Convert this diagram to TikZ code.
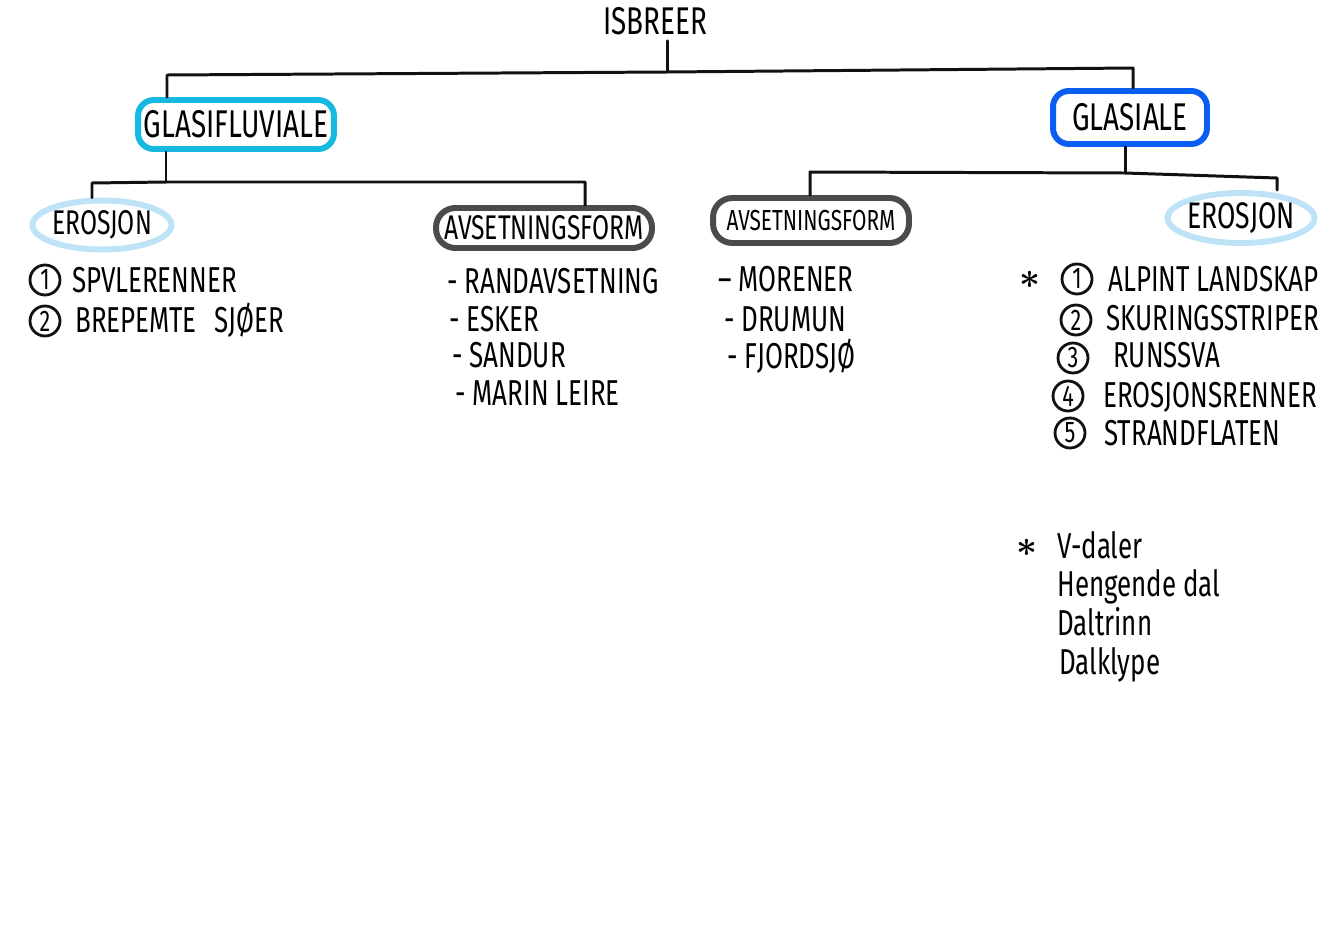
\documentclass[tikz,border=0pt]{standalone}
\usepackage{fontspec}
\setmainfont{Fira Sans}
\newfontfamily\handfont{Fira Sans}[FakeStretch=0.72]
\usetikzlibrary{shapes.geometric,positioning}
\definecolor{ink}{HTML}{111111}
\definecolor{cyanq}{HTML}{16B9DF}
\definecolor{blueq}{HTML}{0A5EF2}
\definecolor{skyq}{HTML}{BEE3F6}
\definecolor{greyq}{HTML}{4B4B4B}

\begin{document}
\begin{tikzpicture}[x=0.02cm,y=-0.02cm,line cap=round,line join=round,
  font=\handfont\fontsize{20.5}{24}\selectfont,
  link/.style={draw=ink,line width=1.7pt},
  bigbox/.style={draw,line width=3.4pt,rounded corners=9pt,inner sep=0pt,
    font=\handfont\fontsize{22}{26}\selectfont},
  ring/.style={ellipse,draw=skyq,line width=3.4pt,inner sep=0pt,inner xsep=-6pt},
  pill/.style={draw=greyq,line width=3.4pt,rounded corners=11pt,inner sep=0pt},
  item/.style={anchor=west,inner sep=0pt,text height=0.7em,text depth=0pt},
  num/.style={circle,draw=ink,line width=1.6pt,inner sep=0pt,minimum size=0.6cm,
    font=\handfont\fontsize{17}{20}\selectfont},
  star/.style={inner sep=0pt,font=\huge\boldmath}]
  \useasboundingbox (0,0) rectangle (1334,943);

  % top of the tree
  \node[font=\handfont\fontsize{22}{26}\selectfont] (isbreer) at (655,21) {ISBREER};
  \node[bigbox,draw=cyanq,minimum width=3.92cm,minimum height=0.98cm]
    (glasifluviale) at (236,124.5) {GLASIFLUVIALE};
  \node[bigbox,draw=blueq,minimum width=3.08cm,minimum height=1.06cm]
    (glasiale) at (1130,117.5) {GLASIALE};

  \node[ring,minimum width=2.78cm,minimum height=0.98cm,
    font=\handfont\fontsize{19.5}{23}\selectfont] (eros1) at (102,225) {EROSJON};
  \node[pill,minimum width=4.32cm,minimum height=0.8cm,
    font=\handfont\fontsize{19.5}{23}\selectfont] (avs1) at (544,228) {AVSETNINGSFORM};
  \node[pill,minimum width=3.92cm,minimum height=0.9cm,
    font=\handfont\fontsize{16.5}{20}\selectfont] (avs2) at (811,220.5) {AVSETNINGSFORM};
  \node[ring,minimum width=2.94cm,minimum height=1.0cm,
    font=\handfont\fontsize{21}{25}\selectfont] (eros2) at (1241,218) {EROSJON};

  % connectors
  \coordinate (hub) at (667,72);
  \coordinate (j1) at (167,75);
  \coordinate (j2) at (1133,68);
  \draw[link] (isbreer.south -| hub) -- (hub);
  \draw[link] (glasifluviale.north -| j1) -- (j1) -- (hub) -- (j2) -- (glasiale.north -| j2);

  \coordinate (k0) at (166,182);
  \coordinate (k1) at (92,183);
  \coordinate (k2) at (585,182);
  \draw[link] (glasifluviale.south -| k0) -- (k0);
  \draw[link] (eros1.north -| k1) -- (k1) -- (k0) -- (k2) -- (avs1.north -| k2);

  \coordinate (m0) at (1125,173);
  \coordinate (m1) at (810,172);
  \coordinate (m2) at (1277,178);
  \draw[link] (glasiale.south -| m0) -- (m0);
  \draw[link] (avs2.north -| m1) -- (m1) -- (m0) -- (m2) -- (eros2.north -| m2);

  % glasifluviale erosjon
  \node[num] (e1n) at (45,280) {1};
  \node[item] (e1) at (72,286) {SPVLERENNER};
  \node[num] (e2n) at (45,321) {2};
  \node[item] (e2) at (75,326) {BREPEMTE\enspace SJØER};

  % glasifluviale avsetningsform
  \node[item] (a1) at (447,287) {- RANDAVSETNING};
  \node[item] (a2) at (449,325) {- ESKER};
  \node[item] (a3) at (452,361) {- SANDUR};
  \node[item] (a4) at (455,399) {- MARIN LEIRE};

  % glasiale avsetningsform
  \node[item] (b1) at (718,285) {– MORENER};
  \node[item] (b2) at (724,325) {- DRUMUN};
  \node[item] (b3) at (727,362) {- FJORDSJØ};

  % glasiale erosjon
  \node[star] (s1) at (1030,280) {$\ast$};
  \node[num] (r1n) at (1077,279) {1};
  \node[item] (r1) at (1108,285) {ALPINT LANDSKAP};
  \node[num] (r2n) at (1076,320) {2};
  \node[item] (r2) at (1106,324) {SKURINGSSTRIPER};
  \node[num] (r3n) at (1073,358) {3};
  \node[item] (r3) at (1113,361) {RUNSSVA};
  \node[num] (r4n) at (1068,396) {4};
  \node[item] (r4) at (1103,401) {EROSJONSRENNER};
  \node[num] (r5n) at (1070,433) {5};
  \node[item] (r5) at (1104,439) {STRANDFLATEN};

  % note
  \node[star] (s2) at (1027,548) {$\ast$};
  \node[item] (d1) at (1057,552) {V-daler};
  \node[item] (d2) at (1057,590) {Hengende dal};
  \node[item] (d3) at (1057,629) {Daltrinn};
  \node[item] (d4) at (1059,668) {Dalklype};
\end{tikzpicture}
\end{document}
